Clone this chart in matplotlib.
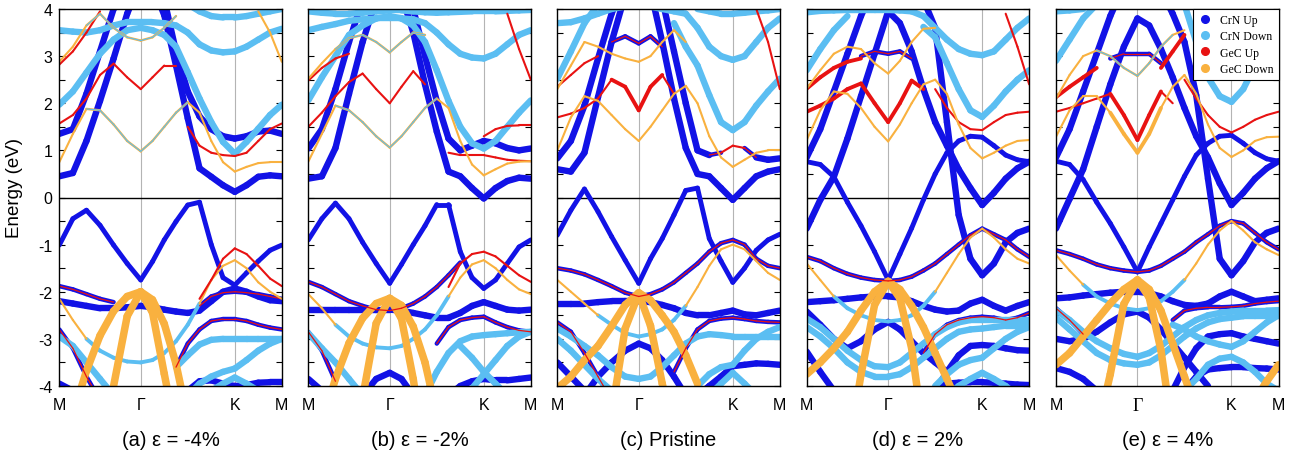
import numpy as np
import matplotlib
matplotlib.use("Agg")
import matplotlib.pyplot as plt
from matplotlib.collections import LineCollection
from matplotlib.lines import Line2D

N = np.nan

# ---------------------------------------------------------------------------
# Band energies (eV) sampled along M - Γ - K - M
# 7 points on M-Γ, 8 more on Γ-K, 4 more on K-M (19 samples per band)
# ---------------------------------------------------------------------------

# ---- (a) strain -4 % ----
a_v1 = [-1.01, -0.45, -0.27, -0.59, -1.01, -1.4, -1.75, -1.36, -0.9, -0.51, -0.16, -0.1, -1.0, -1.7, -1.86, -1.6, -1.35, -1.12, -1.01]
a_v2 = [-2.2, -2.25, -2.3, -2.35, -2.35, -2.33, -2.3, -2.33, -2.38, -2.42, -2.45, -2.4, -2.2, -2.0, -1.93, -2.0, -2.1, -2.18, -2.2]
a_v3 = [-1.88, -1.95, -2.05, -2.15, -2.22] + [N] * 6 + [-2.3, -2.1, -2.02, -2.0, -2.02, -2.05, -2.1, -2.15]
a_v4 = [-2.8, -3.2, -3.8, -4.3] + [N] * 5 + [-3.6, -3.1, -2.8, -2.62, -2.58, -2.58, -2.62, -2.7, -2.76, -2.8]
a_v5 = [-3.95, -4.1] + [N] * 8 + [-4.1, -3.9, -3.88, -3.95, -4.0, -3.98, -3.93, -3.92, -3.92]
a_r1 = [N] * 11 + [-2.15, -1.75, -1.3, -1.08, -1.2, -1.45, -1.72, -1.88]
a_o1 = [-2.15, -2.6, -3.0, -3.25, -3.4, -3.48, -3.5, -3.45, -3.3, -3.05, -2.7, -2.25, -1.75, -1.45, -1.33, -1.5, -1.8, -2.0, -2.15]
a_l1 = [-2.95, -3.15, -3.5, -3.85, -4.2] + [N] * 14
a_l2 = [N] * 9 + [-3.6, -3.35, -3.12, -3.02, -3.0, -3.0, -3.0, -3.0, -3.0, -3.0]
a_l3 = [N] * 10 + [-4.2, -3.95, -3.8, -3.7, -3.63, -3.45, -3.25, -3.1, -3.0]
a_l4 = [N] * 12 + [-4.1, -3.95, -3.82, -3.95, -4.1, N, N]
a_do = [N, -4.6, -3.68, -2.93, -2.41, -2.1, -2.0, -2.17, -2.68, -3.53, -4.7] + [N] * 8
a_di = [N, N, N, N, -4.0, -2.52, -2.0, -2.44, -3.74, -5.0] + [N] * 9
a_ri = [N, N, N, N, -4.2, -2.62, -2.03, -2.55, -3.9, -5.2] + [N] * 9
a_c1 = [0.45, 0.52, 1.2, 2.05, 2.95, 3.9, 4.6, 4.5, 3.87, 2.8, 1.68, 0.62, 0.44, 0.26, 0.12, 0.26, 0.44, 0.47, 0.45]
a_c2 = [1.35, 1.45, 2.2, 3.1, 4.0, 4.6, 4.9, 4.8, 4.2, 3.1, 2.25, 1.72, 1.45, 1.3, 1.25, 1.3, 1.4, 1.42, 1.35]
a_c3 = [1.57, 1.75, 2.1, 2.6, 2.84, 2.55, 2.3, 2.55, 2.8, 2.8] + [N] * 9
a_r2 = [N] * 10 + [1.5, 1.1, 0.95, 0.9, 0.88, 0.95, 1.2, 1.45, 1.57]
a_c4 = [0.75, 1.35, 1.88, 1.85, 1.55, 1.2, 0.98, 1.2, 1.5, 1.8, 2.02, 1.8, 1.2, 0.75, 0.55, 0.65, 0.73, 0.75, 0.75]
a_c5 = [2.88, 3.2, 3.65, 3.9, 3.6, 3.4, 3.33, 3.4, 3.6, 3.85] + [N] * 9
a_c6 = [N] * 16 + [3.95, 3.5, 2.88]
a_c7 = [2.82, 3.1, 3.5, 3.95] + [N] * 15
a_l5 = [1.97, 2.25, 2.65, 3.05, 3.35, 3.55, 3.6, 3.55, 3.45, 3.2, 2.66, 2.1, 1.6, 1.18, 0.93, 1.18, 1.46, 1.75, 1.97]
a_l6 = [3.55, 3.52, 3.5, 3.55, 3.65, 3.72, 3.72, 3.72, 3.7, 3.65, 3.5, 3.25, 3.12, 3.08, 3.1, 3.2, 3.35, 3.5, 3.58]
a_l7 = [N] * 10 + [4.1, 3.95, 3.85, 3.82, 3.82, 3.85, 3.9, 3.95, 4.0]

# ---- (b) strain -2 % ----
b_v1 = [-0.9, -0.45, -0.12, -0.45, -0.95, -1.4, -1.82, -1.42, -1.0, -0.6, -0.15, -0.15, -1.15, -1.7, -1.93, -1.75, -1.4, -1.05, -0.9]
b_v2 = [-2.38, -2.38, -2.38, -2.38, -2.38, -2.38, -2.38, -2.4, -2.45, -2.5, -2.55, -2.55, -2.45, -2.3, -2.22, -2.3, -2.38, -2.4, -2.38]
b_v3 = [-1.79, -1.9, -2.05, -2.2, -2.3, -2.38, -2.4, -2.35, -2.25, -2.1, -1.9, -1.65, -1.38] + [N] * 6
b_v4 = [-2.85, -3.25, -3.9] + [N] * 7 + [-3.1, -2.75, -2.6, -2.55, -2.53, -2.65, -2.75, -2.82, -2.85]
b_v5 = [-3.85, -4.1] + [N] * 9 + [-4.2, -4.0, -3.9, -3.85, -3.88, -3.88, -3.85, -3.82]
b_v6 = [N, N, N, N, -4.2, -3.85, -3.72, -3.85, -4.2] + [N] * 10
b_r1 = [N] * 11 + [-1.9, -1.4, -1.2, -1.15, -1.25, -1.45, -1.65, -1.79]
b_o1 = [-2.05, -2.35, -2.7, -2.95, -3.1, -3.18, -3.2, -3.15, -3.0, -2.8, -2.5, -2.1, -1.7, -1.42, -1.33, -1.5, -1.75, -1.95, -2.05]
b_l1 = [-2.88, -3.2, -3.5, -3.85, -4.2] + [N] * 14
b_l2 = [N] * 9 + [-4.2, -3.7, -3.3, -3.05, -2.95, -2.92, -2.9, -2.88, -2.86, -2.85]
b_l3 = [N] * 12 + [-3.15, -3.4, -3.7, -3.95, -4.2, N, N]
b_l4 = [N] * 13 + [-4.05, -3.75, -3.45, -3.15, -2.95, -2.85]
b_do = [N, -4.8, -3.85, -3.09, -2.56, -2.25, -2.14, -2.29, -2.74, -3.5, -4.6] + [N] * 8
b_di = [N, N, N, N, -4.25, -2.67, -2.14, -2.57, -3.85, -5.5] + [N] * 9
b_ri = [N, N, N, N, -4.4, -2.75, -2.17, -2.68, -4.0, -5.6] + [N] * 9
b_c1 = [0.4, 0.45, 1.05, 2.2, 3.3, 4.2, 4.7, 4.3, 3.5, 2.4, 1.4, 0.55, 0.45, 0.2, -0.02, 0.2, 0.35, 0.42, 0.4]
b_c2 = [1.04, 1.45, 2.3, 3.3, 4.2, 4.8, 5.0, 4.8, 4.0, 3.0, 2.05, 1.25, 1.0, 1.1, 1.2, 1.15, 1.05, 1.0, 1.04]
b_c3 = [1.5, 1.8, 2.15, 2.45, 2.63, 2.3, 2.0, 2.35, 2.68, 2.4] + [N] * 9
b_r2 = [N] * 11 + [0.95, 0.9, 0.9, 0.9, 0.85, 0.8, 0.78, 0.77]
b_r3 = [N] * 14 + [1.3, 1.45, 1.52, 1.53, 1.53]
b_c4 = [0.76, 1.35, 1.95, 1.85, 1.6, 1.3, 1.06, 1.3, 1.6, 1.9, 2.1, 1.9, 1.2, 0.7, 0.47, 0.6, 0.72, 0.76, 0.77]
b_c5 = [2.52, 2.85, 3.15, 3.38, 3.45, 3.3, 3.08, 3.3, 3.5, 3.45] + [N] * 9
b_c6 = [2.48, 2.75, 2.95, 3.05] + [N] * 15
b_c7 = [N] * 16 + [3.9, 3.15, 2.5]
b_l5 = [2.06, 2.55, 3.0, 3.45, 3.65, 3.8, 3.85, 3.8, 3.65, 3.3, 2.7, 2.05, 1.5, 1.15, 1.04, 1.2, 1.5, 1.8, 2.06]
b_l6 = [3.55, 3.62, 3.68, 3.75, 3.78, 3.8, 3.8, 3.8, 3.78, 3.7, 3.5, 3.25, 3.05, 2.97, 2.95, 3.05, 3.25, 3.45, 3.55]
b_l7 = [3.95, 3.92, 3.9, 3.9, 3.92, 3.95, 3.97, 3.97, 3.95, 3.93, 3.92, 3.93, 3.94, 3.95, 3.95, 3.95, 3.96, 3.97, 3.98]

# ---- (c) pristine ----
c_v1 = [-0.8, -0.27, 0.18, -0.3, -0.83, -1.33, -1.82, -1.3, -0.87, -0.37, 0.15, 0.2, -0.87, -1.35, -1.8, -1.5, -1.12, -0.9, -0.78]
c_v2 = [-1.5, -1.55, -1.63, -1.75, -1.88, -2.02, -2.1, -2.05, -1.95, -1.8, -1.6, -1.4, -1.15, -0.97, -0.9, -1.0, -1.3, -1.45, -1.5]
c_v3 = [-1.75, -2.0, -2.25, -2.5, -2.7, -2.88, -2.95, -2.9, -2.8, -2.6, -2.3, -1.9, -1.45, -1.1, -1.0, -1.1, -1.35, -1.6, -1.75]
c_v4 = [-2.25, -2.25, -2.25, -2.22, -2.2, -2.2, -2.2, -2.22, -2.28, -2.35, -2.45, -2.5, -2.5, -2.45, -2.4, -2.48, -2.5, -2.45, -2.4]
c_v5 = [-2.65, -2.85, -3.3, -3.8, -4.3] + [N] * 4 + [-3.7, -3.2, -2.8, -2.62, -2.57, -2.55, -2.58, -2.62, -2.64, -2.65]
c_v6 = [N, N, -4.2, -3.8, -3.5, -3.25, -3.1, -3.2, -3.45, -3.8, -4.2] + [N] * 8
c_v7 = [-3.5, -3.8, -4.1] + [N] * 8 + [-4.2, -4.0, -3.8, -3.58, -3.55, -3.52, -3.53, -3.55]
c_l1 = [-2.78, -2.95, -3.15, -3.35, -3.6, -3.8, -3.85, -3.8, -3.6, -3.35, -3.1, -2.95, -2.9, -2.92, -2.95, -2.95, -2.95, -2.95, -2.95]
c_l2 = [-3.0, -3.25, -3.55, -3.85, -4.1] + [N] * 6 + [-4.0, -3.75, -3.6, -3.55, -3.25, -3.0, -2.85, -2.75]
c_l3 = [N] * 12 + [-4.2, -3.95, -3.72, -3.95, -4.2, N, N]
c_do = [-4.05, -3.8, -3.45, -3.15, -2.73, -2.28, -2.02, -2.18, -2.5, -2.85, -3.35, -3.95] + [N] * 7
c_di = [N, N, N, N, -4.6, -2.78, -2.04, -2.72, -3.95, -5.0] + [N] * 9
c_ri = [N, N, N, N, -4.4, -2.7, -2.06, -2.65, -3.85, -4.9] + [N] * 9
c_c1 = [0.6, 0.55, 0.95, 2.13, 3.3, 4.3, 4.8, 4.4, 3.3, 2.1, 1.05, 0.5, 0.45, 0.2, -0.05, 0.2, 0.45, 0.55, 0.6]
c_c2 = [0.83, 1.2, 1.95, 2.95, 3.9, 4.6, 5.0, 4.9, 4.2, 3.1, 2.0, 1.0, 0.9, 0.95, 1.1, 1.05, 0.85, 0.8, 0.83]
c_c3 = [1.7, 1.78, 1.9, 2.1, 2.5, 2.35, 1.85, 2.35, 2.6, 2.2] + [N] * 9
c_c4 = [1.0, 1.7, 2.15, 2.05, 1.75, 1.45, 1.2, 1.5, 1.85, 2.2, 2.37, 2.0, 1.3, 0.85, 0.65, 0.8, 0.95, 1.0, 1.0]
c_c5 = [2.3, 2.8, 3.3, 3.2, 3.05, 2.95, 2.88, 3.0, 3.3, 3.55, 3.3] + [N] * 8
c_c6 = [N, N, N, N, 3.3, 3.42, 3.27, 3.42, 3.2] + [N] * 10
c_c7 = [2.35, 2.6, 2.85, 3.0] + [N] * 15
c_c8 = [N] * 16 + [4.0, 3.3, 2.3]
c_l4 = [N] * 9 + [3.7, 3.2, 2.8, 2.17, 1.6, 1.43, 1.6, 1.95, 2.25, 2.52]
c_l5 = [2.52, 3.1, 3.7, 4.1] + [N] * 15
c_l6 = [3.7, 3.72, 3.8, 3.9, 4.0, 4.05, 4.1, 4.05, 4.0, 3.95, 3.9, 3.6, 3.2, 3.0, 2.92, 3.0, 3.3, 3.6, 3.8]
c_l7 = [N] * 11 + [4.0, 3.95, 3.9, 3.9, 3.92, 3.95, 3.97, 4.0]

# ---- (d) strain 2 % ----
d_v1 = [0.76, 0.7, 0.44, -0.1, -0.6, -1.15, -1.75, -1.2, -0.65, -0.05, 0.5, 0.95, 1.2, 1.3, 1.28, 1.1, 0.9, 0.8, 0.76]
d_c1 = [-0.66, -0.05, 0.44, 1.25, 2.15, 3.05, 3.95, 3.7, 3.1, 2.3, 1.6, 1.1, 0.6, 0.2, -0.16, 0.1, 0.4, 0.62, 0.76]
d_c2 = [0.85, 1.45, 2.25, 3.05, 3.85, 4.5, 5.0, 4.8, 4.5, 4.2, 3.6, 1.6, -0.37, -1.3, -1.65, -1.4, -0.95, -0.75, -0.66]
d_r1 = [-1.26, -1.35, -1.5, -1.62, -1.7, -1.75, -1.77, -1.75, -1.68, -1.55, -1.4, -1.2, -1.0, -0.8, -0.66, -0.78, -0.9, -1.1, -1.26]
d_o1 = [-1.4, -1.75, -2.1, -2.35, -2.5, -2.6, -2.63, -2.6, -2.5, -2.3, -2.0, -1.6, -1.2, -0.85, -0.66, -0.85, -1.1, -1.3, -1.4]
d_v4 = [-2.22, -2.2, -2.18, -2.15, -2.12, -2.1, -2.1, -2.12, -2.2, -2.3, -2.38, -2.42, -2.4, -2.25, -2.17, -2.3, -2.4, -2.3, -2.22]
d_v5 = [-2.42, -2.7, -3.0, -3.2, -3.05, -2.8, -2.64, -2.8, -3.05, -3.3, -3.5, -3.7] + [N] * 7
d_v6 = [N] * 9 + [-3.3, -2.9, -2.7, -2.6, -2.55, -2.53, -2.55, -2.6, -2.55, -2.45]
d_v7 = [N] * 10 + [-4.1, -3.7, -3.35, -3.15, -3.13, -3.15, -3.2, -3.24, -3.25]
d_v8 = [-3.27, -3.7, -4.1] + [N] * 7 + [-4.1, -3.95, -3.93, -3.92, -3.92, -3.93, -3.95, -3.97, -3.98]
d_l1 = [-2.57, -2.75, -3.0, -3.25, -3.45, -3.58, -3.6, -3.5, -3.3, -3.1, -2.9, -2.75, -2.65, -2.6, -2.6, -2.6, -2.6, -2.6, -2.6]
d_l2 = [-2.75, -2.95, -3.2, -3.5, -3.7, -3.8, -3.8, -3.75, -3.6, -3.4, -3.2, -3.0, -2.85, -2.8, -2.78, -2.75, -2.72, -2.72, -2.72]
d_l3 = [N] * 10 + [-4.0, -3.75, -3.55, -3.45, -3.4, -3.2, -3.0, -2.85, -2.75]
d_l4 = [N] * 11 + [-4.2, -4.0, -3.85, -3.72, -3.85, -4.0, -4.2, N]
d_do = [-3.75, -3.5, -3.2, -2.85, -2.4, -2.0, -1.78, -1.95, -2.3, -2.75, -3.3, -3.85, -4.4] + [N] * 6
d_di = [N, N, N, -5.5, -3.76, -2.28, -1.78, -2.14, -3.2, -5.0] + [N] * 9
d_ri = [N, N, N, -5.3, -3.6, -2.2, -1.8, -2.2, -3.35, -5.2] + [N] * 9
d_c3 = [1.82, 1.95, 2.1, 2.3, 2.42, 2.0, 1.6, 2.0, 2.48, 2.3] + [N] * 9
d_r2 = [N] * 10 + [2.3, 1.9, 1.6, 1.45, 1.43, 1.6, 1.75, 1.8, 1.82]
d_c4 = [1.22, 1.85, 2.25, 2.2, 1.9, 1.5, 1.19, 1.55, 2.0, 2.4, 2.5, 2.2, 1.55, 1.05, 0.83, 0.95, 1.1, 1.2, 1.22]
d_c5 = [2.31, 2.7, 3.05, 3.2, 3.15, 2.85, 2.63, 2.9, 3.3, 3.58, 3.6] + [N] * 8
d_l6 = [N] * 9 + [3.62, 3.4, 2.85, 2.3, 1.85, 1.71, 1.95, 2.25, 2.5, 2.7]
d_l7 = [2.7, 3.15, 3.55, 3.85] + [N] * 15
d_l8 = [3.93, 3.96, 3.97, 3.98, 3.98, 3.98, 3.98, 3.97, 3.95, 3.85, 3.6, 3.35, 3.15, 3.05, 3.02, 3.1, 3.35, 3.6, 3.8]
d_c6 = [N, N, N, N, 3.0, 3.1, 3.05, 3.1, 2.95] + [N] * 10
d_c7 = [2.31, 2.55, 2.75, 2.88, 2.95] + [N] * 14
d_c8 = [N] * 16 + [3.9, 3.2, 2.4]

# ---- (e) strain 4 % ----
e_v1 = [0.77, 0.7, 0.38, -0.1, -0.55, -1.05, -1.58, -1.05, -0.55, -0.05, 0.45, 0.9, 1.15, 1.3, 1.32, 1.15, 0.95, 0.82, 0.77]
e_c1 = [-0.66, -0.03, 0.6, 1.5, 2.4, 3.2, 3.8, 3.65, 3.15, 2.55, 1.9, 1.3, 0.85, 0.3, -0.16, 0.1, 0.4, 0.62, 0.77]
e_c2 = [0.85, 1.45, 2.25, 3.05, 3.85, 4.5, 5.0, 4.8, 4.4, 3.9, 3.3, 2.17, 0.4, -1.3, -1.65, -1.35, -0.95, -0.75, -0.66]
e_r1 = [-1.12, -1.2, -1.3, -1.42, -1.5, -1.55, -1.58, -1.55, -1.45, -1.3, -1.15, -0.95, -0.78, -0.6, -0.5, -0.55, -0.75, -0.95, -1.1]
e_o1 = [-1.22, -1.55, -1.85, -2.1, -2.25, -2.35, -2.39, -2.35, -2.2, -2.0, -1.75, -1.4, -1.0, -0.7, -0.5, -0.7, -0.95, -1.1, -1.22]
e_v3 = [-2.14, -2.12, -2.08, -2.05, -2.02, -2.0, -2.0, -2.03, -2.1, -2.2, -2.28, -2.3, -2.25, -2.1, -2.0, -2.1, -2.2, -2.17, -2.14]
e_v4 = [-3.0, -3.05, -3.0, -2.85, -2.65, -2.48, -2.42, -2.55, -2.8, -3.1, -3.4, -3.7, -4.0] + [N] * 6
e_v5 = [N] * 9 + [-4.1, -3.6, -3.2, -2.95, -2.9, -2.88, -2.95, -3.0, -3.05, -3.1]
e_v6 = [-2.35, -2.6, -2.9] + [N] * 6 + [-2.6, -2.4, -2.35, -2.33, -2.33, -2.32, -2.3, -2.25, -2.22, -2.2]
e_v7 = [-3.62, -3.7, -3.85, -4.1] + [N] * 6 + [-4.1, -3.8, -3.65, -3.62, -3.6, -3.6, -3.62, -3.63, -3.65]
e_l1 = [-2.39, -2.6, -2.85, -3.05, -3.2, -3.32, -3.38, -3.3, -3.15, -2.95, -2.75, -2.6, -2.5, -2.45, -2.42, -2.4, -2.4, -2.4, -2.39]
e_l2 = [-2.55, -2.8, -3.05, -3.3, -3.45, -3.52, -3.55, -3.5, -3.35, -3.15, -2.95, -2.78, -2.65, -2.58, -2.55, -2.52, -2.52, -2.52, -2.52]
e_l3 = [N] * 9 + [-2.7, -2.8, -2.95, -3.05, -3.12, -3.17, -3.05, -2.85, -2.65, -2.5]
e_l4 = [N] * 10 + [-4.1, -3.85, -3.55, -3.42, -3.38, -3.5, -3.7, -3.95, -4.1]
e_do = [-3.55, -3.3, -2.95, -2.6, -2.25, -1.95, -1.75, -1.95, -2.4, -3.1, -3.8, -4.5] + [N] * 7
e_di = [N, N, N, -5.0, -3.75, -2.26, -1.75, -2.12, -3.24, -5.0] + [N] * 9
e_ri = [N, N, N, -4.8, -3.6, -2.2, -1.78, -2.2, -3.35, -5.1] + [N] * 9
e_o2 = [N] * 16 + [-4.3, -3.9, -3.55]
e_c3 = [1.82, 1.9, 2.0, 2.1, 2.2, 1.75, 1.22, 1.75, 2.25, 2.0] + [N] * 9
e_c4 = [1.29, 1.85, 2.15, 2.15, 1.8, 1.35, 0.95, 1.35, 1.9, 2.35, 2.6, 2.2, 1.55, 1.05, 0.86, 1.0, 1.2, 1.28, 1.29]
e_c5 = [2.1, 2.6, 3.0, 3.12, 3.0, 2.75, 2.58, 2.85, 3.2, 3.45, 3.55] + [N] * 8
e_l5 = [N] * 10 + [4.1, 3.3, 2.55, 2.15, 2.03, 2.3, 2.8, 3.2, 3.6]
e_l6 = [2.9, 3.35, 3.8, 4.1] + [N] * 15
e_l7 = [3.95, 3.97, 4.0] + [N] * 16
e_c6 = [N, N, N, N, 2.95, 3.05, 3.05, 3.05, 2.85] + [N] * 10
e_c7 = [2.13, 2.35, 2.55, 2.75] + [N] * 15
e_c8 = [N] * 8 + [2.75, 3.1, 3.45] + [N] * 8
e_r2 = [N] * 10 + [2.5, 2.1, 1.75, 1.5, 1.38, 1.5, 1.65, 1.75, 1.82]

titles = ["(a) ε = -4%", "(b) ε = -2%", "(c) Pristine", "(d) ε = 2%", "(e) ε = 4%"]
kpoint_labels = ["M", "Γ", "K", "M"]
legend_labels = ["CrN Up", "CrN Down", "GeC Up", "GeC Down"]

# ---------------------------------------------------------------------------
# Colours and line styles of the projected (fat) bands
# ---------------------------------------------------------------------------
BLUE = "#1212e6"
LBLUE = "#5bbef2"
RED = "#e81212"
ORANGE = "#f9b13f"

# layer, colour, linewidth (pt)
# layers: 0 CrN up, 1 CrN down, 2 GeC lines hidden under the thick GeC down,
#         3 thick GeC down, 4/5 thin lines on top
STYLE = {
    "B": [(0, BLUE, 4.6)],
    "b": [(0, BLUE, 3.5)],
    "m": [(0, BLUE, 3.2), (4, RED, 0.9)],
    "R": [(4, RED, 1.5)],
    "r": [(4, RED, 2.8)],
    "U": [(2, RED, 1.5)],
    "L": [(1, LBLUE, 4.6)],
    "l": [(1, LBLUE, 2.8)],
    "O": [(4, ORANGE, 1.5)],
    "o": [(4, ORANGE, 2.8)],
    "T": [(3, ORANGE, 5.4)],
    "g": [(4, ORANGE, 1.7), (5, LBLUE, 0.8)],
}
NLAYERS = 6

# bands of each panel with their segment styles
panels = [
    [(a_v2, "B"), (a_v5, "B"), (a_c1, "B"), (a_c2, "B"), (a_v1, "b"),
     (a_v3, "m"), (a_v4, "m"),
     (a_l1, "L"), (a_l2, "L"), (a_l3, "L"), (a_l4, "L"), (a_l5, "L"), (a_l6, "L"), (a_l7, "L"),
     (a_o1, "OO" + "l" * 9 + "O" * 7),
     (a_do, "T"), (a_di, "T"), (a_ri, "U"),
     (a_r1, "R"), (a_r2, "R"), (a_c3, "R"), (a_c7, "R"),
     (a_c4, "OO" + "g" * 8 + "O" * 8), (a_c5, "OO" + "g" * 16), (a_c6, "O")],
    [(b_v2, "B"), (b_v5, "B"), (b_v6, "B"), (b_c1, "B"), (b_c2, "B"), (b_v1, "b"),
     (b_v3, "m"), (b_v4, "m"),
     (b_l1, "L"), (b_l2, "L"), (b_l3, "L"), (b_l4, "L"), (b_l5, "L"), (b_l6, "L"), (b_l7, "L"),
     (b_o1, "OO" + "l" * 9 + "O" * 7),
     (b_do, "T"), (b_di, "T"), (b_ri, "U"),
     (b_r1, "R"), (b_r2, "R"), (b_r3, "R"), (b_c3, "R"), (b_c6, "R"), (b_c7, "R"),
     (b_c4, "OO" + "g" * 8 + "O" * 8), (b_c5, "OO" + "g" * 16)],
    [(c_v4, "B"), (c_v6, "B"), (c_v7, "B"), (c_c1, "B"), (c_v1, "b"),
     (c_c2, "B" * 12 + "m" + "RR" + "m" + "BB"),
     (c_v2, "m"), (c_v5, "m"), (c_c6, "m"),
     (c_l1, "L"), (c_l2, "L"), (c_l3, "L"), (c_l4, "L"), (c_l5, "L"), (c_l6, "L"), (c_l7, "L"),
     (c_v3, "OOO" + "l" * 7 + "O" * 8),
     (c_do, "T"), (c_di, "T"), (c_ri, "U"),
     (c_c3, "RRRR" + "rrrr" + "R" * 10), (c_c7, "R"), (c_c8, "R"),
     (c_c4, "O"), (c_c5, "O")],
    [(d_v4, "B"), (d_v5, "B"), (d_v7, "B"), (d_v8, "B"), (d_c1, "B"), (d_c2, "B"), (d_v1, "b"),
     (d_r1, "m"), (d_v6, "m"), (d_c6, "m"),
     (d_l1, "L"), (d_l2, "L"), (d_l3, "L"), (d_l4, "L"), (d_l6, "L"), (d_l7, "L"), (d_l8, "L"),
     (d_o1, "OO" + "l" * 8 + "O" * 8),
     (d_do, "T"), (d_di, "T"), (d_ri, "U"),
     (d_c3, "r"), (d_r2, "R"), (d_c7, "r"), (d_c8, "R"),
     (d_c4, "O"), (d_c5, "O")],
    [(e_v3, "B"), (e_v4, "B"), (e_v5, "B"), (e_v7, "B"), (e_c1, "B"), (e_c2, "B"), (e_v1, "b"),
     (e_r1, "m"), (e_v6, "m"), (e_c6, "m"),
     (e_l1, "L"), (e_l2, "L"), (e_l3, "L"), (e_l4, "L"), (e_l5, "L"), (e_l6, "L"), (e_l7, "L"),
     (e_o1, "OO" + "l" * 8 + "O" * 8),
     (e_do, "T"), (e_di, "T"), (e_o2, "T"), (e_ri, "U"),
     (e_c3, "RRRR" + "rrrr" + "R" * 10), (e_c7, "r"), (e_c8, "r"), (e_r2, "R"),
     (e_c4, "OOOO" + "oooo" + "O" * 10), (e_c5, "OOO" + "g" * 6 + "O" * 9)],
]

# ---------------------------------------------------------------------------
# k-path coordinates (hexagonal BZ segment lengths)
# ---------------------------------------------------------------------------
L_MG, L_GK, L_KM = 1.0, 2.0 / np.sqrt(3.0), 1.0 / np.sqrt(3.0)
k = np.concatenate([
    np.linspace(0.0, L_MG, 7),
    L_MG + np.linspace(0.0, L_GK, 9)[1:],
    L_MG + L_GK + np.linspace(0.0, L_KM, 5)[1:],
])
NSEG = len(k) - 1
k_ticks = [0.0, L_MG, L_MG + L_GK, L_MG + L_GK + L_KM]

SANS = "Liberation Sans"
SERIF = "Liberation Serif"
plt.rcParams["font.family"] = [SANS, "DejaVu Sans"]

W, H = 1297, 460
fig = plt.figure(figsize=(W / 100, H / 100), dpi=100)

ax_left_px = [59.3, 308.3, 557.3, 806.7, 1056.0]
ax_w_px = 222.5
ax_top_px, ax_bot_px = 10.0, 387.0


def expand(style):
    if len(style) == 1:
        return style * NSEG
    return (style + style[-1] * NSEG)[:NSEG]


def draw_bands(ax, bands):
    layers = {n: ([], [], []) for n in range(NLAYERS)}
    for values, style in bands:
        e = np.full(len(k), np.nan)
        vals = np.asarray(values, dtype=float)[:len(k)]
        e[:len(vals)] = vals
        st = expand(style)
        for i in range(NSEG):
            if np.isfinite(e[i]) and np.isfinite(e[i + 1]):
                for layer, col, lw in STYLE[st[i]]:
                    segs, cols, lws = layers[layer]
                    segs.append([(k[i], e[i]), (k[i + 1], e[i + 1])])
                    cols.append(col)
                    lws.append(lw)
    for layer in range(NLAYERS):
        segs, cols, lws = layers[layer]
        if segs:
            lc = LineCollection(segs, colors=cols, linewidths=lws,
                                capstyle="round", joinstyle="round",
                                zorder=3 + layer)
            ax.add_collection(lc)


for idx, (bands, title) in enumerate(zip(panels, titles)):
    ax = fig.add_axes([ax_left_px[idx] / W, 1 - ax_bot_px / H,
                       ax_w_px / W, (ax_bot_px - ax_top_px) / H])
    ax.set_xlim(k_ticks[0], k_ticks[-1])
    ax.set_ylim(-4, 4)
    for kv in k_ticks[1:3]:
        ax.axvline(kv, color="#b4b4b4", lw=0.8, zorder=1)
    ax.axhline(0.0, color="black", lw=1.0, zorder=1.5)

    draw_bands(ax, bands)

    ax.set_xticks(k_ticks)
    ax.set_xticklabels(kpoint_labels, fontsize=11.5)
    if idx == 4:
        ax.get_xticklabels()[1].set_fontfamily(SERIF)
        ax.get_xticklabels()[1].set_fontsize(13)
    ax.tick_params(axis="x", length=0, pad=8)

    yt = np.arange(-4, 4.01, 0.5)
    ax.set_yticks(yt)
    if idx == 0:
        ax.set_yticklabels([("%d" % v) if abs(v - round(v)) < 1e-9 else "" for v in yt],
                           fontsize=11.5)
    else:
        ax.set_yticklabels([])
    ax.tick_params(axis="y", direction="in", length=4, width=0.8,
                   left=True, right=True, pad=5)
    for sp in ax.spines.values():
        sp.set_linewidth(1.0)
        sp.set_zorder(10)

    cx = (ax_left_px[idx] + ax_w_px / 2) / W
    fig.text(cx, 1 - 441 / H, title, ha="center", va="center", fontsize=14.5)

    if idx == 4:
        handles = [Line2D([], [], ls="", marker="o", markersize=5.5, color=c)
                   for c in (BLUE, LBLUE, RED, ORANGE)]
        leg = ax.legend(handles, legend_labels, loc="upper right", borderaxespad=0.0,
                        frameon=True, fancybox=False, framealpha=1.0, edgecolor="black",
                        prop={"family": SERIF, "size": 8.5}, handletextpad=0.6,
                        labelspacing=0.35, borderpad=0.45, handlelength=1.2)
        leg.get_frame().set_linewidth(0.8)
        leg.set_zorder(20)

fig.text(15 / W, 1 - 188 / H, "Energy (eV)", rotation=90, ha="center", va="center",
         fontsize=13.5)

fig.savefig("out.png", dpi=100)
